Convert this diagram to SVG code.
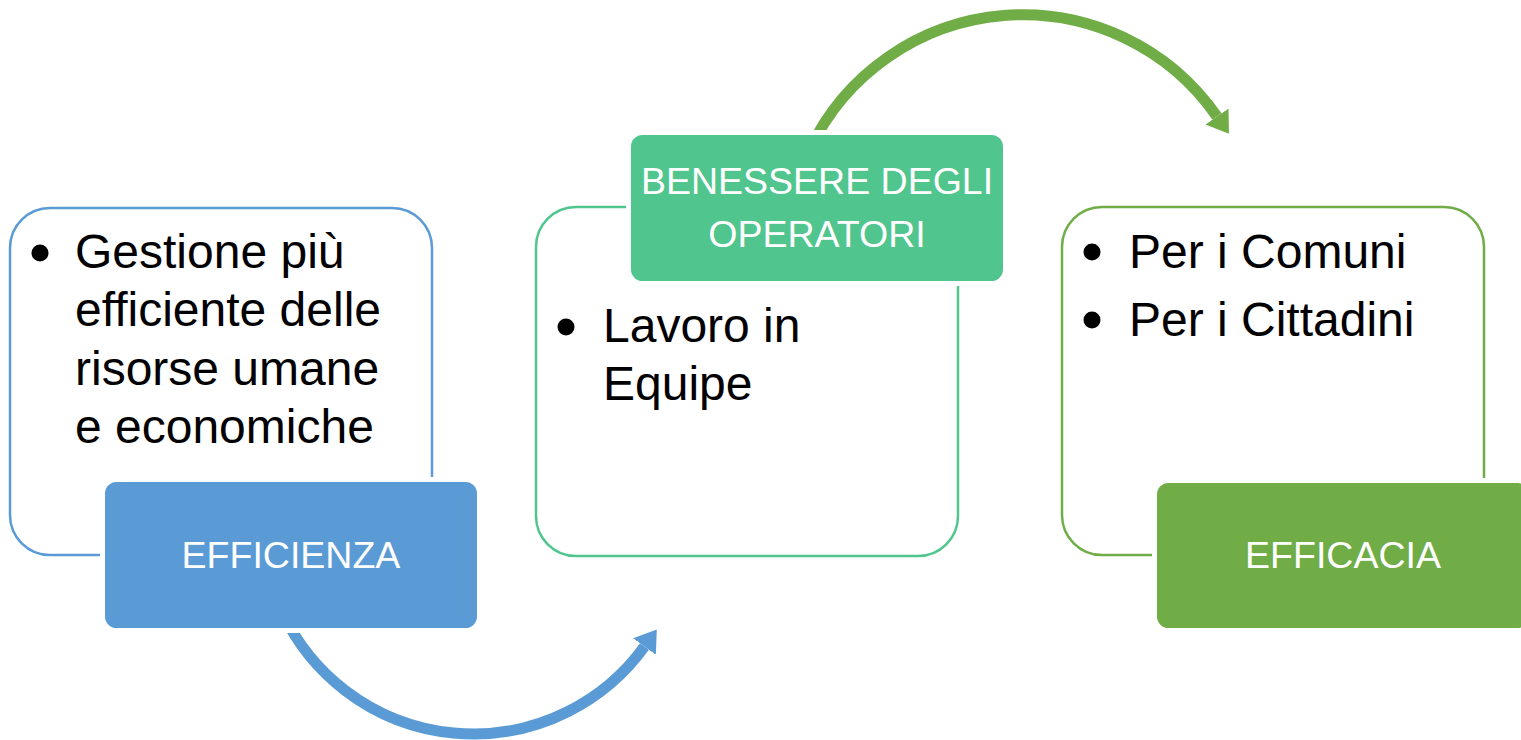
<svg xmlns="http://www.w3.org/2000/svg" width="1521" height="740" viewBox="0 0 1521 740">
<style>
.outer{fill:#FFFFFF;stroke-width:2.5}
.label{stroke:#FFFFFF;stroke-width:5}
.body{font-family:"Liberation Sans",Arial,sans-serif;font-size:48px;fill:#000000}
.ltxt{font-family:"Liberation Sans",Arial,sans-serif;font-size:37.5px;fill:#FFFFFF;text-anchor:middle}
.arc{fill:none;stroke-width:11}
</style>
<defs>
<marker id="ahBlue" markerUnits="userSpaceOnUse" markerWidth="24" markerHeight="30" viewBox="0 -15 24 30" refX="0" refY="0" orient="auto">
<path d="M0,-14 L21,0 L0,14 Z" fill="#5B9BD5"/>
</marker>
<marker id="ahGreen" markerUnits="userSpaceOnUse" markerWidth="24" markerHeight="30" viewBox="0 -15 24 30" refX="0" refY="0" orient="auto">
<path d="M0,-14 L21,0 L0,14 Z" fill="#70AD47"/>
</marker>
</defs>
<rect width="1521" height="740" fill="#FFFFFF"/>
<g id="connectors">
<path class="arc" stroke="#5B9BD5" d="M 282.2 612 A 211 211 0 0 0 644.5 646.5" marker-end="url(#ahBlue)"/>
<path class="arc" stroke="#70AD47" stroke-width="12" d="M 809.5 150 A 236 236 0 0 1 1217 116.5" marker-end="url(#ahGreen)"/>
</g>
<g id="node-efficienza">
<rect class="outer" x="10" y="208" width="422" height="347" rx="40" ry="40" stroke="#5B9BD5"/>
<circle cx="40" cy="253" r="8.5" fill="#000000"/>
<text class="body" x="75" y="268">Gestione più</text>
<text class="body" x="75" y="326">efficiente delle</text>
<text class="body" x="75" y="385">risorse umane</text>
<text class="body" x="75" y="443">e economiche</text>
<rect class="label" x="102.5" y="479.5" width="377" height="151" rx="14" ry="14" fill="#5B9BD5"/>
<text class="ltxt" x="291" y="568">EFFICIENZA</text>
</g>
<g id="node-benessere">
<rect class="outer" x="536" y="207" width="422" height="349" rx="40" ry="40" stroke="#50C58E"/>
<circle cx="566" cy="327" r="8.5" fill="#000000"/>
<text class="body" x="603" y="342">Lavoro in</text>
<text class="body" x="603" y="400">Equipe</text>
<rect class="label" x="628.5" y="132.5" width="377" height="151" rx="14" ry="14" fill="#50C58E"/>
<text class="ltxt" x="817" y="194">BENESSERE DEGLI</text>
<text class="ltxt" x="817" y="247">OPERATORI</text>
</g>
<g id="node-efficacia">
<rect class="outer" x="1062" y="207" width="422" height="348" rx="40" ry="40" stroke="#70AD47"/>
<circle cx="1092" cy="252" r="8.5" fill="#000000"/>
<text class="body" x="1129" y="268">Per i Comuni</text>
<circle cx="1092" cy="320" r="8.5" fill="#000000"/>
<text class="body" x="1129" y="336">Per i Cittadini</text>
<rect class="label" x="1154.5" y="480.5" width="377" height="150" rx="14" ry="14" fill="#70AD47"/>
<text class="ltxt" x="1343" y="568">EFFICACIA</text>
</g>
</svg>
